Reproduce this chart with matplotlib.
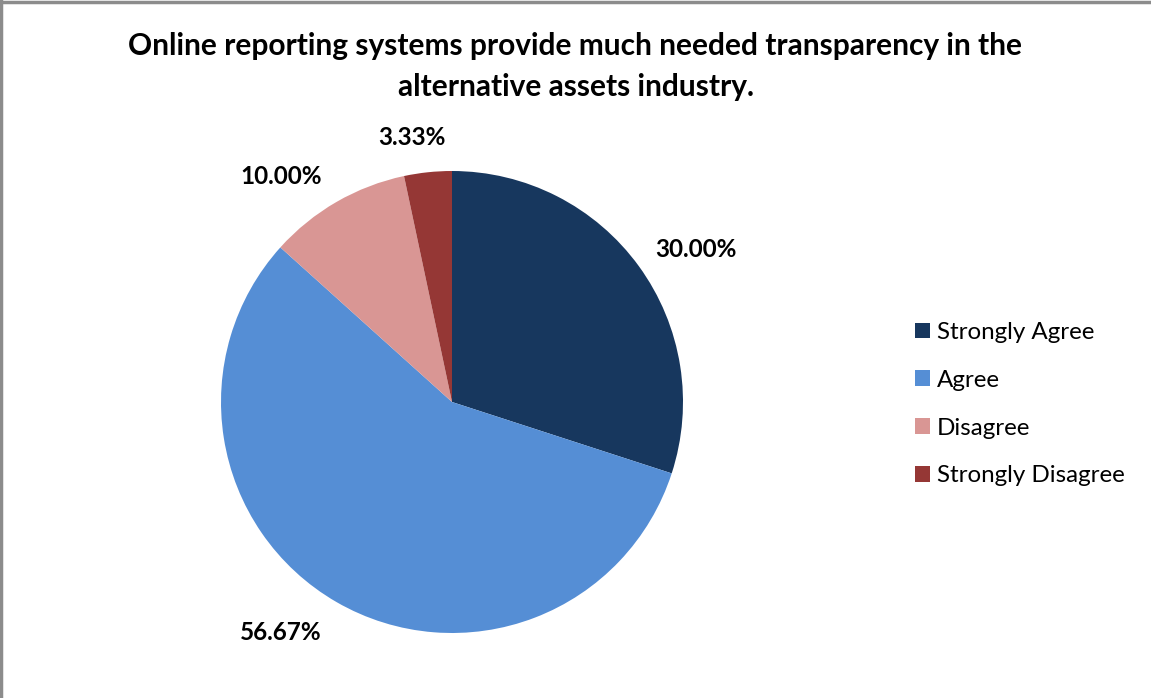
import matplotlib
matplotlib.use("Agg")
import matplotlib.pyplot as plt
from matplotlib.patches import Patch

plt.rcParams['font.family'] = ['Lato', 'DejaVu Sans']

categories = ['Strongly Agree', 'Agree', 'Disagree', 'Strongly Disagree']
shares = [30.00, 56.67, 10.00, 3.33]
colors = ['#17375E', '#558ED5', '#D99694', '#953735']
title = ('Online reporting systems provide much needed transparency in the\n'
         'alternative assets industry.')

# where the value labels sit, in units of the pie radius (layout only)
label_xy = [(1.056, 0.662), (-0.742, -0.996), (-0.740, 0.978), (-0.173, 1.147)]

fig = plt.figure(figsize=(11.51, 6.98), dpi=100)

# pie axes: centre ~ (452, 402) px, radius ~231 px
W, H = 1151.0, 698.0
cx, cy, r = 452, 402, 231
ax = fig.add_axes([(cx - r) / W, (H - cy - r) / H, 2 * r / W, 2 * r / H])
wedges, texts, autotexts = ax.pie(shares, colors=colors, startangle=90,
                                  counterclock=False, radius=1.0,
                                  autopct='%.2f%%', pctdistance=1.24,
                                  wedgeprops=dict(linewidth=0))
for t, xy in zip(autotexts, label_xy):
    t.set_position(xy)
    t.set_fontsize(17.5)
    t.set_fontweight('bold')
    t.set_color('black')
ax.set_xlim(-1, 1)
ax.set_ylim(-1, 1)
ax.set_aspect('equal')
ax.axis('off')

fig.text(0.5, 0.905, title, ha='center', va='center', fontsize=21.5,
         fontweight='bold', linespacing=1.55)

handles = [Patch(facecolor=c, edgecolor='none') for c in colors]
fig.legend(handles, categories, loc='center left',
           bbox_to_anchor=(0.776, 0.421), frameon=False, fontsize=17.4,
           handlelength=0.62, handleheight=0.62, handletextpad=0.3,
           labelspacing=1.11)

# grey border on top and left edges
fig.add_artist(plt.Line2D([0.001, 0.001], [0, 0.998], color='#8c8c8c',
                          lw=2.5, transform=fig.transFigure))
fig.add_artist(plt.Line2D([0, 1], [0.997, 0.997], color='#8c8c8c',
                          lw=2.5, transform=fig.transFigure))

fig.savefig('out.png', dpi=100, facecolor='white')
